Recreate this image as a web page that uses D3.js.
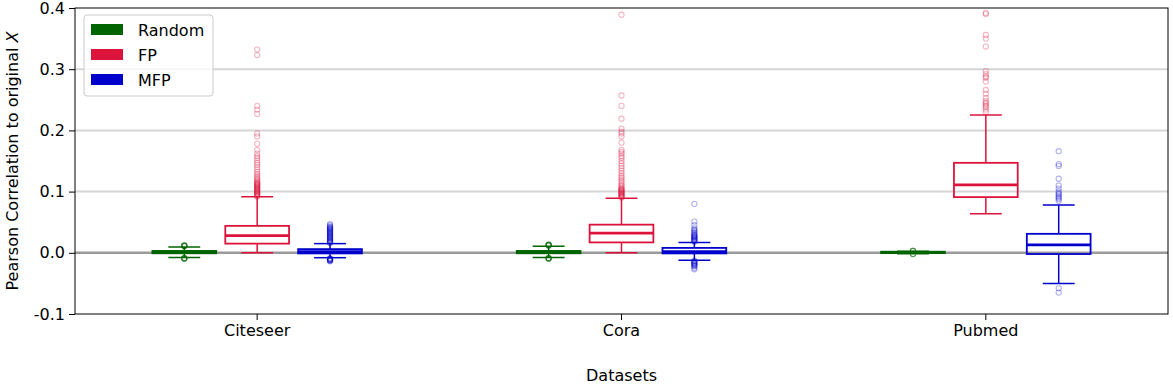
<!DOCTYPE html>
<html><head><meta charset="utf-8">
<script src="https://cdn.jsdelivr.net/npm/d3@7"></script>
<style>body{margin:0;background:#fff}svg{display:block;font-family:"DejaVu Sans",sans-serif}</style>
</head><body><svg id="c" width="1173" height="385"></svg>
<script>
const categories = ["Citeseer", "Cora", "Pubmed"];
const seriesNames = ["Random", "FP", "MFP"];
const seriesColors = ["#006400", "#DC143C", "#0000CD"];
const yTicks = [-0.1, 0.0, 0.1, 0.2, 0.3, 0.4];
const yTickLabels = ["-0.1", "0.0", "0.1", "0.2", "0.3", "0.4"];

// box stats per dataset: [whiskerLow, q1, median, q3, whiskerHigh]
const randomBox = [[-0.0075, -0.0008, 0.0012, 0.003, 0.0095], [-0.0075, -0.0008, 0.0012, 0.003, 0.0105], [-0.0015, -0.0005, 0.0008, 0.0018, 0.0025]];
const fpBox = [[0.0, 0.015, 0.028, 0.044, 0.0915], [0.0, 0.017, 0.032, 0.046, 0.089], [0.064, 0.091, 0.111, 0.147, 0.225]];
const mfpBox = [[-0.008, -0.001, 0.002, 0.006, 0.015], [-0.012, -0.001, 0.002, 0.008, 0.017], [-0.050, -0.002, 0.013, 0.031, 0.078]];

const randomFliers = [
  [0.0105, 0.011, 0.0113, 0.0115, 0.0118, 0.012, 0.0122, -0.0085, -0.0088, -0.009, -0.0092, -0.0095, -0.0098],
  [0.0115, 0.012, 0.0123, 0.0126, 0.013, 0.0133, 0.0136, -0.0085, -0.0088, -0.009, -0.0092, -0.0095, -0.0098],
  [0.0028, 0.003, 0.0033, 0.0035, -0.0018, -0.002, -0.0022]
];
const fpFliers = [
  [0.092, 0.093, 0.094, 0.095, 0.096, 0.097, 0.098, 0.099, 0.1, 0.101, 0.102, 0.103, 0.104, 0.105, 0.106, 0.107, 0.108, 0.109, 0.11, 0.111, 0.112, 0.113, 0.114, 0.115, 0.117, 0.119, 0.121, 0.123, 0.126, 0.129, 0.132, 0.136, 0.14, 0.144, 0.147, 0.151, 0.155, 0.158, 0.162, 0.168, 0.178, 0.19, 0.195, 0.227, 0.234, 0.24, 0.323, 0.332],
  [0.09, 0.091, 0.092, 0.093, 0.094, 0.095, 0.096, 0.097, 0.098, 0.099, 0.1, 0.101, 0.102, 0.103, 0.104, 0.105, 0.107, 0.109, 0.111, 0.114, 0.117, 0.12, 0.123, 0.126, 0.13, 0.134, 0.138, 0.142, 0.146, 0.15, 0.155, 0.158, 0.162, 0.165, 0.168, 0.18, 0.19, 0.195, 0.198, 0.203, 0.219, 0.24, 0.257, 0.389],
  [0.23, 0.234, 0.238, 0.24, 0.243, 0.245, 0.248, 0.253, 0.26, 0.266, 0.28, 0.286, 0.288, 0.292, 0.297, 0.337, 0.35, 0.356, 0.39, 0.392]
];
const mfpFliers = [
  [0.016, 0.017, 0.018, 0.019, 0.02, 0.021, 0.022, 0.023, 0.024, 0.025, 0.026, 0.027, 0.028, 0.029, 0.03, 0.031, 0.032, 0.033, 0.034, 0.035, 0.036, 0.037, 0.038, 0.039, 0.04, 0.041, 0.042, 0.043, 0.045, 0.047, -0.009, -0.0095, -0.01, -0.0105, -0.011, -0.0115, -0.012, -0.0125, -0.013, -0.014],
  [0.018, 0.019, 0.02, 0.021, 0.022, 0.023, 0.024, 0.025, 0.026, 0.027, 0.028, 0.029, 0.03, 0.032, 0.034, 0.036, 0.038, 0.04, 0.045, 0.051, 0.08, -0.013, -0.014, -0.015, -0.016, -0.017, -0.018, -0.019, -0.02, -0.021, -0.022, -0.025, -0.027],
  [0.085, 0.088, 0.09, 0.092, 0.095, 0.097, 0.1, 0.105, 0.11, 0.121, 0.142, 0.145, 0.166, -0.058, -0.065]
];

const boxes = [randomBox, fpBox, mfpBox];
const fliers = [randomFliers, fpFliers, mfpFliers];

const W = 1173, H = 385;
const m = {left: 75, right: 5, top: 8, bottom: 71};
const svg = d3.select("#c");
const x = d3.scaleBand().domain(categories).range([m.left, W - m.right]).padding(0);
const y = d3.scaleLinear().domain([-0.1, 0.4]).range([H - m.bottom, m.top]);
const bw = x.bandwidth();
const offsets = [-0.2, 0, 0.2];
const boxW = 0.175 * bw;

// grid
svg.append("g").selectAll("line").data(yTicks.filter(t => t > 0 && t < 0.4)).join("line")
  .attr("x1", m.left).attr("x2", W - m.right)
  .attr("y1", d => y(d)).attr("y2", d => y(d))
  .attr("stroke", "#d6d6d6").attr("stroke-width", 2);
svg.append("line").attr("x1", m.left).attr("x2", W - m.right)
  .attr("y1", y(0)).attr("y2", y(0)).attr("stroke", "#9a9a9a").attr("stroke-width", 2.6);

// boxes
seriesNames.forEach((s, si) => {
  const col = seriesColors[si];
  const g = svg.append("g");
  categories.forEach((c, ci) => {
    const cx = x(c) + bw / 2 + offsets[si] * bw;
    const [wl, q1, med, q3, wh] = boxes[si][ci];
    g.selectAll(null).data(fliers[si][ci]).join("circle")
      .attr("cx", cx).attr("cy", d => y(d)).attr("r", 2.6)
      .attr("fill", "none").attr("stroke", col).attr("stroke-opacity", 0.3).attr("stroke-width", 1.1);
    g.append("line").attr("x1", cx).attr("x2", cx).attr("y1", y(q3)).attr("y2", y(wh)).attr("stroke", col).attr("stroke-width", 1.5);
    g.append("line").attr("x1", cx).attr("x2", cx).attr("y1", y(q1)).attr("y2", y(wl)).attr("stroke", col).attr("stroke-width", 1.5);
    [wl, wh].forEach(v => g.append("line").attr("x1", cx - boxW / 4).attr("x2", cx + boxW / 4)
      .attr("y1", y(v)).attr("y2", y(v)).attr("stroke", col).attr("stroke-width", 1.5));
    g.append("rect").attr("x", cx - boxW / 2).attr("width", boxW)
      .attr("y", y(q3)).attr("height", Math.max(0, y(q1) - y(q3)))
      .attr("fill", "none").attr("stroke", col).attr("stroke-width", 1.8);
    g.append("line").attr("x1", cx - boxW / 2).attr("x2", cx + boxW / 2)
      .attr("y1", y(med)).attr("y2", y(med)).attr("stroke", col).attr("stroke-width", 2.8);
  });
});

// frame
svg.append("rect").attr("x", m.left).attr("y", m.top).attr("width", W - m.left - m.right).attr("height", H - m.top - m.bottom)
  .attr("fill", "none").attr("stroke", "#000").attr("stroke-width", 1);

// axes
const yAxis = d3.axisLeft(y).tickValues(yTicks).tickFormat((d, i) => yTickLabels[i]).tickSize(6).tickPadding(4);
svg.append("g").attr("transform", `translate(${m.left},0)`).call(yAxis)
  .call(g => g.select(".domain").remove())
  .call(g => g.selectAll("text").attr("font-size", 16).attr("fill", "#000").attr("font-family", "DejaVu Sans"));
const xAxis = d3.axisBottom(x).tickSize(6).tickPadding(5);
svg.append("g").attr("transform", `translate(0,${H - m.bottom})`).call(xAxis)
  .call(g => g.select(".domain").remove())
  .call(g => g.selectAll("text").attr("font-size", 16).attr("fill", "#000").attr("font-family", "DejaVu Sans"));

// labels
svg.append("text").attr("x", (m.left + W - m.right) / 2).attr("y", 381).attr("text-anchor", "middle")
  .attr("font-size", 16).text("Datasets");
const yl = svg.append("text").attr("transform", `translate(18,${(m.top + H - m.bottom) / 2}) rotate(-90)`)
  .attr("text-anchor", "middle").attr("font-size", 16);
yl.append("tspan").text("Pearson Correlation to original ");
yl.append("tspan").attr("font-style", "italic").text("X");

// legend
const lg = svg.append("g").attr("transform", "translate(84,15)");
lg.append("rect").attr("width", 129).attr("height", 81).attr("rx", 3)
  .attr("fill", "#fff").attr("fill-opacity", 0.8).attr("stroke", "#ccc").attr("stroke-width", 1);
seriesNames.forEach((s, i) => {
  lg.append("rect").attr("x", 7).attr("y", 9 + i * 25).attr("width", 32).attr("height", 11).attr("fill", seriesColors[i]);
  lg.append("text").attr("x", 54).attr("y", 20.5 + i * 25).attr("font-size", 16).text(s);
});
</script></body></html>
